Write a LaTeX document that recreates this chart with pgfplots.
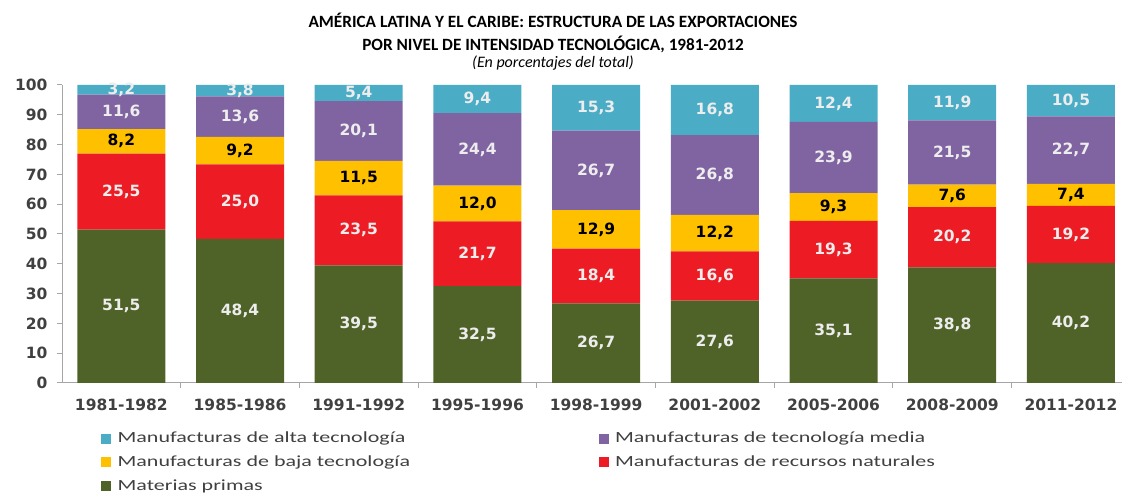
\documentclass[border=0pt]{standalone}
\usepackage{fontspec}
\usepackage{pgfplots}
\usepackage{pgfplotstable}
\pgfplotsset{compat=1.18}
\setmainfont{Carlito}
\newfontfamily\legfont[FakeStretch=1.42]{Carlito}
\newfontfamily\djv{DejaVu Sans}
\definecolor{cat}{HTML}{4BACC6}
\definecolor{ctm}{HTML}{8064A2}
\definecolor{cbt}{HTML}{FFC000}
\definecolor{crn}{HTML}{ED1C24}
\definecolor{cmp}{HTML}{4F6228}
\definecolor{tk}{HTML}{404040}
\definecolor{axc}{HTML}{A6A6A6}
\pgfplotstableread{
x mp rn bt tm alt
0 51.5 25.5 8.2 11.6 3.2
1 48.4 25.0 9.2 13.6 3.8
2 39.5 23.5 11.5 20.1 5.4
3 32.5 21.7 12.0 24.4 9.4
4 26.7 18.4 12.9 26.7 15.3
5 27.6 16.6 12.2 26.8 16.8
6 35.1 19.3 9.3 23.9 12.4
7 38.8 20.2 7.6 21.5 11.9
8 40.2 19.2 7.4 22.7 10.5
}\data
\pgfplotsset{
  seg/.style 2 args={fill=#2, draw=none,
    nodes near coords={\pgfmathprintnumber[fixed,fixed zerofill,precision=1,use comma,assume math mode=true]{\val}},
    visualization depends on={\thisrow{#1}\as\val},
    every node near coord/.append style={anchor=center,
      font=\djv\bfseries\fontsize{15.5}{18}\selectfont, inner sep=0pt}},
  limg/.style={legend image code/.code={\fill[#1] (0pt,-4.5pt) rectangle (9pt,4.5pt);}}
}
\begin{document}
\begin{tikzpicture}
\useasboundingbox (0,0) rectangle (1122pt,495pt);
\node[anchor=base, font=\fontsize{17.2}{20}\selectfont\bfseries] at (553pt,467pt) {AMÉRICA LATINA Y EL CARIBE: ESTRUCTURA DE LAS EXPORTACIONES};
\node[anchor=base, font=\fontsize{17.2}{20}\selectfont\bfseries] at (553pt,444pt) {POR NIVEL DE INTENSIDAD TECNOLÓGICA, 1981-2012};
\node[anchor=base, font=\fontsize{16}{18}\selectfont\itshape] at (553pt,427pt) {(En porcentajes del total)};
\begin{axis}[
  at={(62pt,112pt)}, anchor=south west, scale only axis,
  width=1060pt, height=298pt,
  xmin=-0.5, xmax=8.43, ymin=0, ymax=100,
  ybar stacked, bar width=88pt,
  axis x line*=bottom, axis y line*=left,
  axis line style={axc, line width=1pt},
  /pgf/number format/assume math mode=true,
  ytick={0,10,...,100},
  xtick={0.5,1.5,...,7.5}, xticklabels={},
  extra x ticks={0,1,...,8},
  extra x tick labels={1981-1982,1985-1986,1991-1992,1995-1996,1998-1999,2001-2002,2005-2006,2008-2009,2011-2012},
  extra x tick style={major tick length=0pt},
  tick align=outside, major tick length=5pt,
  tick style={axc, line width=1pt},
  ticklabel style={font=\djv\bfseries\fontsize{15.5}{18}\selectfont, text=tk},
  xticklabel style={yshift=-12pt},
  yticklabel style={xshift=-6pt},
  legend columns=2,
  legend style={at={(0.034,-0.151)}, anchor=north west, draw=none, fill=none,
    font=\legfont\fontsize{15.5}{18}\selectfont, text=tk, cells={anchor=west},
    row sep=7.5pt, /tikz/every odd column/.append style={column sep=5pt}},
]
\addplot[seg={mp}{cmp}, every node near coord/.append style={text=white!93!black}, forget plot] table[x=x,y=mp]{\data};
\addplot[seg={rn}{crn}, every node near coord/.append style={text=white!93!black}, forget plot] table[x=x,y=rn]{\data};
\addplot[seg={bt}{cbt}, every node near coord/.append style={text=black}, forget plot] table[x=x,y=bt]{\data};
\addplot[seg={tm}{ctm}, every node near coord/.append style={text=white!93!black}, forget plot] table[x=x,y=tm]{\data};
\addplot[seg={alt}{cat}, every node near coord/.append style={text=white!93!black}, forget plot] table[x=x,y=alt]{\data};
\addlegendimage{limg=cat}
\addlegendentry{\makebox[479pt][l]{Manufacturas de alta tecnología}}
\addlegendimage{limg=ctm}
\addlegendentry{Manufacturas de tecnología media}
\addlegendimage{limg=cbt}
\addlegendentry{\makebox[479pt][l]{Manufacturas de baja tecnología}}
\addlegendimage{limg=crn}
\addlegendentry{Manufacturas de recursos naturales}
\addlegendimage{limg=cmp}
\addlegendentry{\makebox[479pt][l]{Materias primas}}
\end{axis}
\end{tikzpicture}
\end{document}
